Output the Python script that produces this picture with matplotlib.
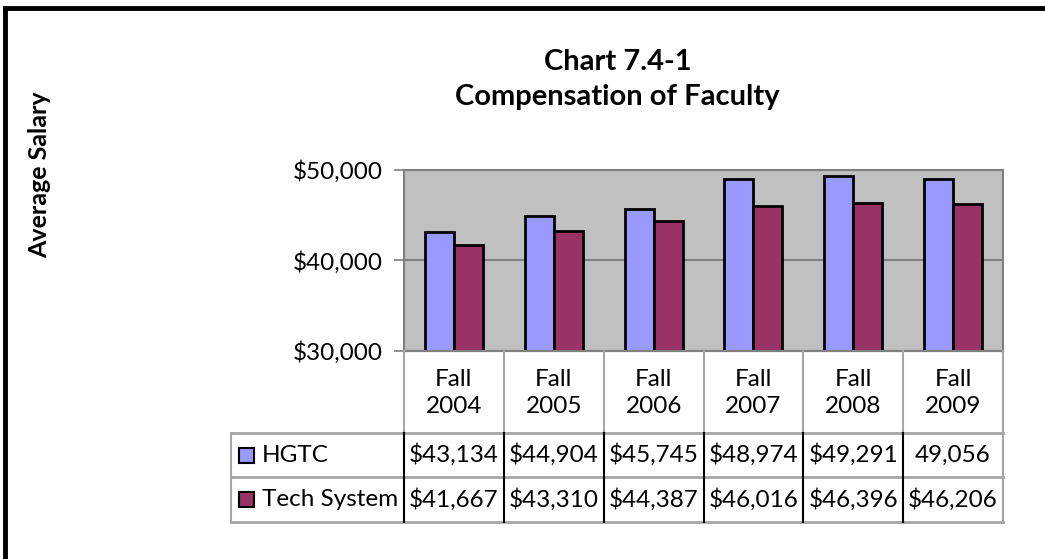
import matplotlib.pyplot as plt
from matplotlib.lines import Line2D
from matplotlib.patches import Rectangle

#chart 7.4-1 data
terms = ["Fall\n2004", "Fall\n2005", "Fall\n2006", "Fall\n2007", "Fall\n2008", "Fall\n2009"]
series_names = ["HGTC", "Tech System"]
hgtc = [43134, 44904, 45745, 48974, 49291, 49056]
tech_system = [41667, 43310, 44387, 46016, 46396, 46206]
#table text as printed in the source (2009 HGTC has no $ sign)
hgtc_labels = ["$43,134", "$44,904", "$45,745", "$48,974", "$49,291", "49,056"]
tech_labels = ["$41,667", "$43,310", "$44,387", "$46,016", "$46,396", "$46,206"]
y_ticks = [30000, 40000, 50000]

colors = ["#9999FF", "#993366"]
grey = "#808080"
plt.rcParams['font.family'] = ['Lato', 'DejaVu Sans']
fs = 17.5

W, H = 1045, 559
fig = plt.figure(figsize=(W / 100, H / 100), dpi=100)

#helper: pixel box -> figure fraction
def box(x0, y0, x1, y1):
    return [x0 / W, 1 - y1 / H, (x1 - x0) / W, (y1 - y0) / H]

#plot area
ax = fig.add_axes(box(404, 170, 1003, 351))
ax.set_facecolor("#C0C0C0")
x = list(range(len(terms)))
bw = 0.29
ax.bar([i - bw / 2 for i in x], hgtc, width=bw, color=colors[0], edgecolor="black", linewidth=2, zorder=3)
ax.bar([i + bw / 2 for i in x], tech_system, width=bw, color=colors[1], edgecolor="black", linewidth=2, zorder=3)
ax.set_xlim(-0.5, len(terms) - 0.5)
ax.set_ylim(y_ticks[0], y_ticks[-1])
ax.set_yticks(y_ticks)
ax.set_yticklabels([f"${v:,}" for v in y_ticks], fontsize=fs)
ax.tick_params(axis="y", direction="out", length=7, width=1.2, color=grey, pad=8)
ax.set_xticks([])
ax.grid(True, axis="y", color=grey, linewidth=1.5, zorder=1)
for s in ax.spines.values():
    s.set_color(grey)
    s.set_linewidth(1.5)

#data table below the plot, same x units as the bars
leg_w = (404 - 231) / ((1003 - 404) / len(terms))
tab = fig.add_axes(box(231, 351, 1003, 522))
tab.set_xlim(-0.5 - leg_w, len(terms) - 0.5)
tab.set_ylim(171, 0)
tab.axis("off")
row_y = [0, 82, 126, 171]
light = "#A6A6A6"
#horizontal lines
tab.plot([-0.5, len(terms) - 0.5], [row_y[0], row_y[0]], color=grey, lw=1.5, clip_on=False)
for yy in row_y[1:]:
    tab.plot([-0.5 - leg_w, len(terms) - 0.5], [yy, yy], color=light, lw=2, clip_on=False)
#vertical lines
for i in range(len(terms) + 1):
    xx = i - 0.5
    c = light if i == len(terms) else "black"
    tab.plot([xx, xx], [row_y[0], row_y[1]], color=light, lw=1.5, clip_on=False)
    tab.plot([xx, xx], [row_y[1], row_y[3]], color=c, lw=1.5, clip_on=False)
tab.plot([-0.5 - leg_w] * 2, [row_y[1], row_y[3]], color=light, lw=1.5, clip_on=False)

for i, t in enumerate(terms):
    tab.text(i, 42, t, ha="center", va="center", fontsize=fs, linespacing=1.3)
    tab.text(i, 104, hgtc_labels[i], ha="center", va="center", fontsize=fs)
    tab.text(i, 148.5, tech_labels[i], ha="center", va="center", fontsize=fs)

#legend keys in the first column
sq = 15 / ((1003 - 404) / len(terms))
for r, name in enumerate(series_names):
    yc = (row_y[r + 1] + row_y[r + 2]) / 2
    tab.add_patch(Rectangle((-0.5 - leg_w + 0.08, yc - 7.5), sq, 15, facecolor=colors[r],
                            edgecolor="black", linewidth=1.5, clip_on=False))
    tab.text(-0.5 - leg_w + 0.31, yc, name, ha="left", va="center", fontsize=fs)

#titles
fig.text(618 / W, 1 - 62 / H, "Chart 7.4-1", ha="center", va="center", fontsize=21, fontweight="bold")
fig.text(617 / W, 1 - 97 / H, "Compensation of Faculty", ha="center", va="center", fontsize=21, fontweight="bold")
fig.text(40 / W, 1 - 175 / H, "Average Salary", ha="center", va="center", rotation=90, fontsize=18, fontweight="bold")

#outer frame (left and top only)
fig.add_artist(Line2D([4.5 / W, 4.5 / W], [0, 1 - 8 / H], color="black", lw=3.5))
fig.add_artist(Line2D([4.5 / W, 1], [1 - 8 / H, 1 - 8 / H], color="black", lw=3.5))

fig.savefig("out.png", dpi=100, facecolor="white")
